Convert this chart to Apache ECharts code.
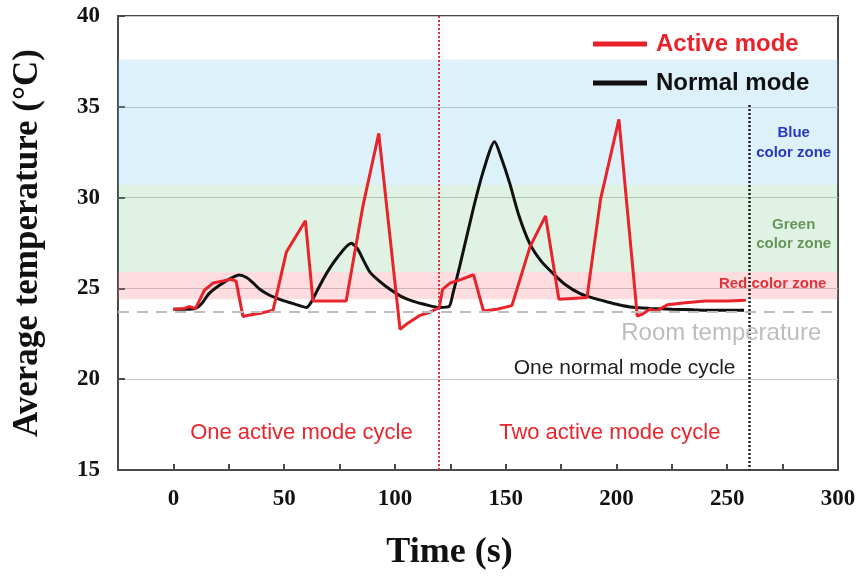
<!DOCTYPE html>
<html>
<head>
<meta charset="utf-8">
<script src="https://cdn.jsdelivr.net/npm/echarts/dist/echarts.min.js"></script>
<style>
  html, body { margin: 0; padding: 0; background: #fff; }
  #chart { width: 858px; height: 577px; }
</style>
</head>
<body>
<div id="chart"></div>
<script>
// Time (s) / average temperature (°C) samples for each operating mode
const activeMode = [
  [0, 23.85], [5, 23.9], [7, 24.0], [10, 23.9], [12, 24.4], [14, 24.9], [18, 25.3],
  [22, 25.4], [26, 25.5], [28.3, 25.4], [31.4, 23.45], [35, 23.55], [40, 23.65],
  [45, 23.8], [51, 27.0], [59.6, 28.73], [63, 24.3], [70, 24.3], [78, 24.3],
  [85.5, 29.5], [92.7, 33.54], [102.3, 22.75], [106, 23.1], [111, 23.5], [116, 23.7],
  [120, 23.95], [121.5, 24.95], [125, 25.3], [130, 25.5], [135.5, 25.75], [140, 23.75],
  [146, 23.85], [152.8, 24.05], [161, 27.3], [168, 28.99], [174, 24.4], [180, 24.45],
  [186.7, 24.5], [192.8, 29.9], [201.1, 34.31], [209.4, 23.48], [212, 23.6], [215, 23.85],
  [218, 23.75], [223, 24.1], [230, 24.2], [240, 24.3], [250, 24.3], [258.4, 24.35]
];
const normalMode = [
  [0, 23.85], [5, 23.85], [10, 23.9], [13, 24.2], [16, 24.7], [20, 25.1], [25, 25.5],
  [29.8, 25.74], [33, 25.6], [36, 25.3], [39, 24.95], [43, 24.65], [48, 24.4], [53, 24.2],
  [57, 24.05], [60, 23.95], [62, 24.2], [65, 24.9], [69, 25.8], [74, 26.7], [80.3, 27.48],
  [83, 27.2], [86, 26.5], [88.7, 25.9], [93, 25.4], [97.7, 24.95], [103, 24.55], [108, 24.3],
  [114, 24.1], [120, 23.95], [124.4, 24.0], [126.2, 24.73], [129.2, 26.2], [135.4, 29.4],
  [140, 31.5], [145, 33.08], [148, 32.2], [151.8, 30.8], [156, 29.0], [160.8, 27.48],
  [166, 26.5], [171.3, 25.83], [177, 25.2], [183.4, 24.73], [190, 24.45], [195.4, 24.27],
  [201, 24.1], [207.4, 23.96], [215, 23.9], [225, 23.85], [235, 23.82], [245, 23.8], [257.6, 23.8]
];

// Colour zones (°C ranges)
const zoneBlue = [30.7, 37.6];
const zoneGreen = [25.9, 30.7];
const zoneRed = [24.4, 25.9];
const roomTemperature = 23.7;

// Cycle boundaries (s)
const activeCycleEnd = 120;
const normalCycleEnd = 260;
const normalCycleTop = 35.1;

// Axis ranges and ticks
const xRange = [-25, 300];
const xStep = 25;
const yRange = [15, 40];
const yStep = 5;

// Annotation texts anchored at [time, temperature]
const notes = [
  { text: 'Blue\ncolor zone', at: [280, 33.0], color: '#2a38c0', size: 15, weight: 'bold', lh: 20 },
  { text: 'Green\ncolor zone', at: [280, 28.0], color: '#66965a', size: 15, weight: 'bold', lh: 19 },
  { text: 'Red color zone', at: [270.5, 25.24], color: '#e0333a', size: 15, weight: 'bold', lh: 18 },
  { text: 'Room temperature', at: [247.3, 22.55], color: '#bdbdbd', size: 24, weight: 'normal', lh: 26 },
  { text: 'One normal mode cycle', at: [203.7, 20.6], color: '#1e1e1e', size: 21, weight: 'normal', lh: 24 },
  { text: 'One active mode cycle', at: [57.8, 17.04], color: '#e8262e', size: 22, weight: 'normal', lh: 24 },
  { text: 'Two active mode cycle', at: [197, 17.04], color: '#e8262e', size: 22, weight: 'normal', lh: 24 }
];

const RED = '#e8232a';
const BLACK = '#111111';
const SERIF = '"Liberation Serif", "Times New Roman", serif';
const SANS = '"Liberation Sans", Arial, sans-serif';

const chart = echarts.init(document.getElementById('chart'), null, { renderer: 'canvas' });

chart.setOption({
  animation: false,
  backgroundColor: '#ffffff',
  grid: {
    left: 118, right: 20, top: 16, bottom: 107,
    show: true, borderColor: '#4a4a4a', borderWidth: 2,
    outerBoundsMode: 'none'
  },
  legend: {
    orient: 'vertical',
    left: 588, top: 27,
    icon: 'rect',
    itemWidth: 54, itemHeight: 5,
    itemGap: 15,
    textStyle: { fontFamily: SANS, fontWeight: 'bold', fontSize: 24, lineHeight: 24, padding: [0, 0, 0, 4] },
    data: [
      { name: 'Active mode', textStyle: { color: RED } },
      { name: 'Normal mode', textStyle: { color: BLACK } }
    ]
  },
  xAxis: {
    type: 'value',
    min: xRange[0], max: xRange[1], interval: xStep,
    name: 'Time (s)',
    nameLocation: 'middle',
    nameGap: 65,
    nameTextStyle: { fontFamily: SERIF, fontWeight: 'bold', fontSize: 36, color: '#111', padding: [0, 57, 0, 0] },
    axisLine: { show: true, onZero: false, lineStyle: { color: '#4a4a4a', width: 2 } },
    axisTick: { show: true, inside: true, length: 6, lineStyle: { color: '#4a4a4a', width: 2 } },
    axisLabel: {
      fontFamily: SERIF, fontWeight: 'bold', fontSize: 23, color: '#111', margin: 18,
      formatter: v => (v >= 0 && v % 50 === 0) ? String(v) : ''
    },
    splitLine: { show: false }
  },
  yAxis: {
    type: 'value',
    min: yRange[0], max: yRange[1], interval: yStep,
    name: 'Average temperature (°C)',
    nameLocation: 'middle',
    nameGap: 73,
    nameRotate: 90,
    nameTextStyle: { fontFamily: SERIF, fontWeight: 'bold', fontSize: 35, color: '#111' },
    axisLine: { show: true, onZero: false, lineStyle: { color: '#4a4a4a', width: 2 } },
    axisTick: { show: true, inside: true, length: 7, lineStyle: { color: '#4a4a4a', width: 2 } },
    axisLabel: { fontFamily: SERIF, fontWeight: 'bold', fontSize: 23, color: '#111', margin: 18 },
    splitLine: { show: true, lineStyle: { color: '#c6c6c6', width: 1 } }
  },
  series: [
    {
      // colour zones, cycle boundaries and room-temperature reference
      name: 'zones',
      type: 'line',
      data: [],
      z: 1,
      silent: true,
      markArea: {
        silent: true,
        data: [
          [{ yAxis: zoneBlue[0], itemStyle: { color: 'rgba(120, 200, 240, 0.25)' } }, { yAxis: zoneBlue[1] }],
          [{ yAxis: zoneGreen[0], itemStyle: { color: 'rgba(100, 190, 120, 0.2)' } }, { yAxis: zoneGreen[1] }],
          [{ yAxis: zoneRed[0], itemStyle: { color: 'rgba(250, 120, 130, 0.25)' } }, { yAxis: zoneRed[1] }]
        ]
      },
      markLine: {
        silent: true,
        symbol: 'none',
        label: { show: false },
        data: [
          { yAxis: roomTemperature, lineStyle: { color: '#bdbdbd', width: 2, type: [11, 8] } },
          [
            { coord: [activeCycleEnd, yRange[1]], lineStyle: { color: '#e0323a', width: 2, type: [2, 2] } },
            { coord: [activeCycleEnd, yRange[0]] }
          ],
          [
            { coord: [normalCycleEnd, normalCycleTop], lineStyle: { color: '#222', width: 2.5, type: [2, 2] } },
            { coord: [normalCycleEnd, yRange[0]] }
          ]
        ]
      }
    },
    {
      name: 'Normal mode',
      type: 'line',
      data: normalMode,
      showSymbol: false,
      smooth: 0.25,
      z: 3,
      color: BLACK,
      lineStyle: { color: BLACK, width: 3 }
    },
    {
      name: 'Active mode',
      type: 'line',
      data: activeMode,
      showSymbol: false,
      z: 4,
      color: RED,
      lineStyle: { color: RED, width: 3 }
    },
    {
      name: 'notes',
      type: 'scatter',
      symbolSize: 0,
      silent: true,
      z: 5,
      itemStyle: { opacity: 1, color: 'rgba(0,0,0,0)' },
      data: notes.map(n => ({
        value: n.at,
        label: {
          show: true,
          position: 'inside',
          formatter: n.text,
          color: n.color,
          opacity: 1,
          fontSize: n.size,
          fontWeight: n.weight,
          fontFamily: SANS,
          lineHeight: n.lh,
          align: 'center',
          verticalAlign: 'middle'
        }
      }))
    }
  ]
});
</script>
</body>
</html>
